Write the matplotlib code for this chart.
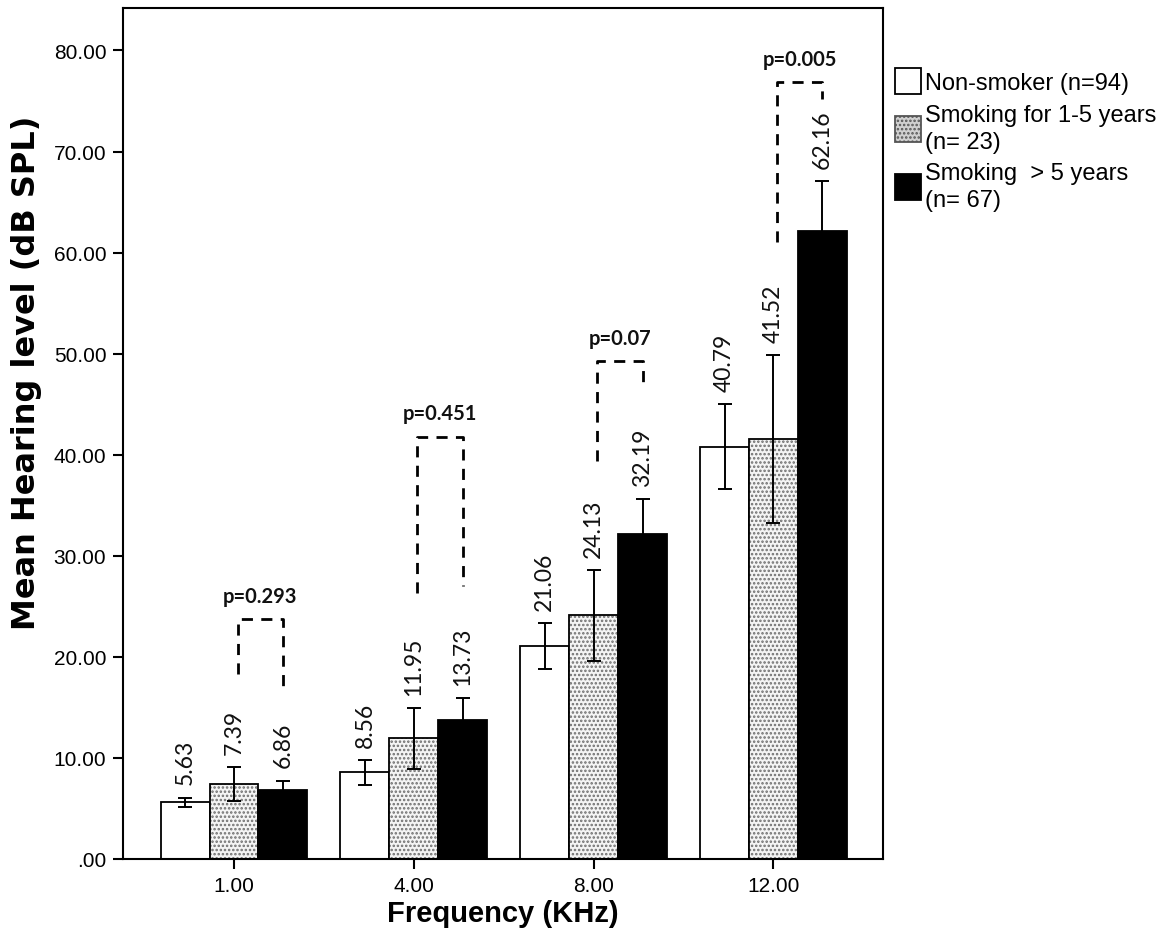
import matplotlib
matplotlib.use("Agg")
import matplotlib.pyplot as plt
from matplotlib.patches import Patch
import numpy as np

plt.rcParams['font.family'] = ['Liberation Sans', 'DejaVu Sans']
plt.rcParams['hatch.linewidth'] = 1.2

# data
freqs = ['1.00', '4.00', '8.00', '12.00']
groups = ['Non-smoker (n=94)', 'Smoking for 1-5 years\n(n= 23)', 'Smoking  > 5 years\n(n= 67)']
non_smoker = [5.63, 8.56, 21.06, 40.79]
smoke_1_5 = [7.39, 11.95, 24.13, 41.52]
smoke_5 = [6.86, 13.73, 32.19, 62.16]
err_non = [0.45, 1.2, 2.25, 4.2]
err_1_5 = [1.7, 3.0, 4.5, 8.3]
err_5 = [0.9, 2.2, 3.4, 4.9]
p_values = ['p=0.293', 'p=0.451', 'p=0.07', 'p=0.005']

# bracket layout (top, left leg end, right leg end)
br_top = [23.7, 41.8, 49.3, 76.9]
br_left = [18.3, 26.3, 39.4, 61.0]
br_right = [17.0, 27.0, 47.2, 75.2]

fig = plt.figure(figsize=(11.68, 9.53), dpi=100)
ax = fig.add_axes([123/1168, 93/953, 760/1168, 851/953])

x = np.arange(len(freqs))
w = 0.272

ax.bar(x - w, non_smoker, w, color='white', edgecolor='black', linewidth=1.3, zorder=2)
ax.bar(x, smoke_1_5, w, color='#f4f4f4', edgecolor='#6e6e6e', hatch='....', linewidth=0, zorder=2)
ax.bar(x, smoke_1_5, w, fill=False, edgecolor='black', linewidth=1.3, zorder=3)
ax.bar(x + w, smoke_5, w, color='black', edgecolor='black', linewidth=1.3, zorder=2)

for off, vals, errs in [(-w, non_smoker, err_non), (0, smoke_1_5, err_1_5), (w, smoke_5, err_5)]:
    ax.errorbar(x + off, vals, yerr=errs, fmt='none', ecolor='black', elinewidth=1.4,
                capsize=5, capthick=1.4, zorder=4)
    for xi, v, e in zip(x + off, vals, errs):
        ax.text(xi, v + e + 1.3, f'{v:.2f}', rotation=90, ha='center', va='bottom',
                fontsize=16.5, family=['Lato', 'DejaVu Sans'], color='#111111', zorder=5)

for i in range(len(freqs)):
    xl = x[i] + 0.02
    xr = x[i] + w
    ax.plot([xl, xl, xr, xr], [br_left[i], br_top[i], br_top[i], br_right[i]],
            color='black', lw=2, ls=(0, (4, 3)), zorder=5)
    ax.text((xl + xr) / 2, br_top[i] + 1.3, p_values[i], ha='center', va='bottom',
            fontsize=14.5, fontweight='bold', family=['Lato', 'DejaVu Sans'], color='#111111')

ax.set_xlim(-0.617, 3.609)
ax.set_ylim(0, 84.2)
ax.set_xticks(x)
ax.set_xticklabels(freqs, fontsize=15)
yt = np.arange(0, 81, 10)
ax.set_yticks(yt)
ax.set_yticklabels(['.00'] + [f'{v:.2f}' for v in yt[1:]], fontsize=15)
ax.tick_params(axis='both', direction='out', length=7, width=1.5, color='black', pad=5)
for s in ax.spines.values():
    s.set_linewidth(1.5)

ax.set_ylabel('Mean Hearing level (dB SPL)', fontsize=23, fontweight='bold',
              family=['DejaVu Sans'])
ax.yaxis.set_label_coords(-0.107, 0.573)
ax.set_xlabel('Frequency (KHz)', fontsize=21, fontweight='bold', labelpad=3)

handles = [Patch(facecolor='white', edgecolor='black', linewidth=1.3),
           Patch(facecolor='#d0d0d0', edgecolor='#555555', hatch='....', linewidth=1.3),
           Patch(facecolor='black', edgecolor='black', linewidth=1.3)]
leg = fig.legend(handles, groups, loc='upper left', bbox_to_anchor=(886/1168, 1 - 60/953),
                 frameon=False, fontsize=17, handlelength=1.1, handleheight=1.3,
                 handletextpad=0.15, labelspacing=0.4, borderaxespad=0)
for t in leg.get_texts():
    t.set_linespacing(1.3)

fig.savefig('out.png', dpi=100)
